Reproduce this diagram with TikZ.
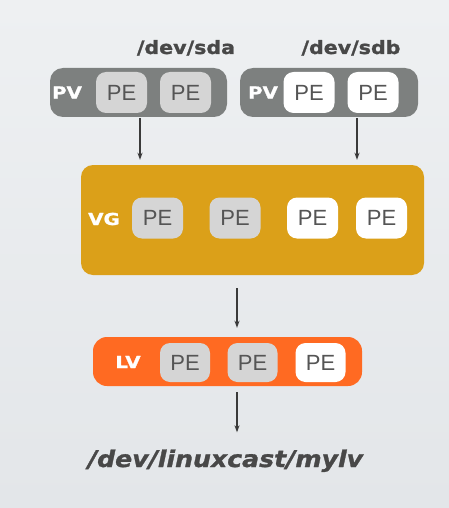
\documentclass[tikz,border=0pt]{standalone}
\usepackage{fontspec}
\setmainfont{Liberation Sans}
\newfontfamily\boldfont{DejaVu Sans Bold}[FakeBold=1.2]
\newfontfamily\boldobl{DejaVu Sans Bold Oblique}[FakeBold=1.2]
\usetikzlibrary{arrows.meta}
\definecolor{bgtop}{HTML}{EEF0F2}
\definecolor{bgbot}{HTML}{E3E6E9}
\definecolor{pvgray}{HTML}{7D807F}
\definecolor{pegray}{HTML}{D5D5D5}
\definecolor{vgorange}{HTML}{DBA019}
\definecolor{lvorange}{HTML}{FF6A22}
\definecolor{petext}{HTML}{555555}
\definecolor{pathtext}{HTML}{484848}
\definecolor{arrgray}{HTML}{3A3A3A}
\tikzset{
  container/.style={rounded corners=13pt, inner sep=0pt},
  pebox/.style={rounded corners=10pt, inner sep=0pt, minimum width=51pt, minimum height=41pt,
    font=\fontsize{22}{22}\selectfont, text=petext},
  pegrey/.style={pebox, fill=pegray},
  pewhite/.style={pebox, fill=white},
  tag/.style={text=white, font=\boldfont\fontsize{16.5}{16.5}\selectfont, xscale=1.2, inner sep=0pt},
  devlabel/.style={text=pathtext, font=\boldfont\fontsize{18.4}{18.4}\selectfont, xscale=1.12, inner sep=0pt, anchor=base},
  arr/.style={draw=arrgray, line width=1.2pt, -{Stealth[length=7pt,width=5pt]}},
}
\begin{document}
\begin{tikzpicture}[x=1pt,y=-1pt]
\shade[top color=bgtop, bottom color=bgbot] (0,0) rectangle (449,508);
\useasboundingbox (0,0) rectangle (449,508);

% PV boxes
\node[container, fill=pvgray, minimum width=177pt, minimum height=49pt] (pv1) at (138.5,92.5) {};
\node[container, fill=pvgray, minimum width=178pt, minimum height=49pt] (pv2) at (329,92.5) {};
\node[tag] (pv1t) at (67,92.5) {PV};
\node[tag] (pv2t) at (263,92.5) {PV};
\node[pegrey] (pe1) at (121.5,92.5) {PE};
\node[pegrey] (pe2) at (185.5,92.5) {PE};
\node[pewhite] (pe3) at (309,92.5) {PE};
\node[pewhite] (pe4) at (373,92.5) {PE};
\node[devlabel] (sda) at (186,54) {/dev/sda};
\node[devlabel] (sdb) at (351,54) {/dev/sdb};

% VG
\node[container, rounded corners=12pt, fill=vgorange, minimum width=343pt, minimum height=110pt] (vg) at (252.5,220) {};
\node[tag] (vgt) at (104,219) {VG};
\node[pegrey] (vpe1) at (157.5,218) {PE};
\node[pegrey] (vpe2) at (235,218) {PE};
\node[pewhite] (vpe3) at (312.5,218) {PE};
\node[pewhite] (vpe4) at (381.5,218) {PE};

% LV
\node[container, rounded corners=14pt, fill=lvorange, minimum width=269pt, minimum height=49pt] (lv) at (227.5,361.5) {};
\node[tag] (lvt) at (128,362) {LV};
\node[pegrey, minimum height=39pt, minimum width=50pt] (lpe1) at (185,362.5) {PE};
\node[pegrey, minimum height=39pt, minimum width=50pt] (lpe2) at (252.5,362.5) {PE};
\node[pewhite, minimum height=39pt, minimum width=50pt] (lpe3) at (320.5,362.5) {PE};

% result path
\node[text=pathtext, font=\boldobl\fontsize{23}{23}\selectfont, xscale=1.095, inner sep=0pt, anchor=base] (mylv) at (225.5,467) {/dev/linuxcast/mylv};

% arrows
\draw[arr, shorten <=1pt, shorten >=5pt] ([xshift=1.5pt]pv1.south) -- ([xshift=1.5pt]pv1.south |- vg.north);
\draw[arr, shorten <=1pt, shorten >=5pt] ([xshift=28pt]pv2.south) -- ([xshift=28pt]pv2.south |- vg.north);
\draw[arr, shorten <=13pt, shorten >=9pt] ([xshift=-15.5pt]vg.south) -- ([xshift=-15.5pt]vg.south |- lv.north);
\draw[arr, shorten <=6pt, shorten >=17pt] ([xshift=9.5pt]lv.south) -- ([xshift=9.5pt]lv.south |- mylv.north);
\end{tikzpicture}
\end{document}
